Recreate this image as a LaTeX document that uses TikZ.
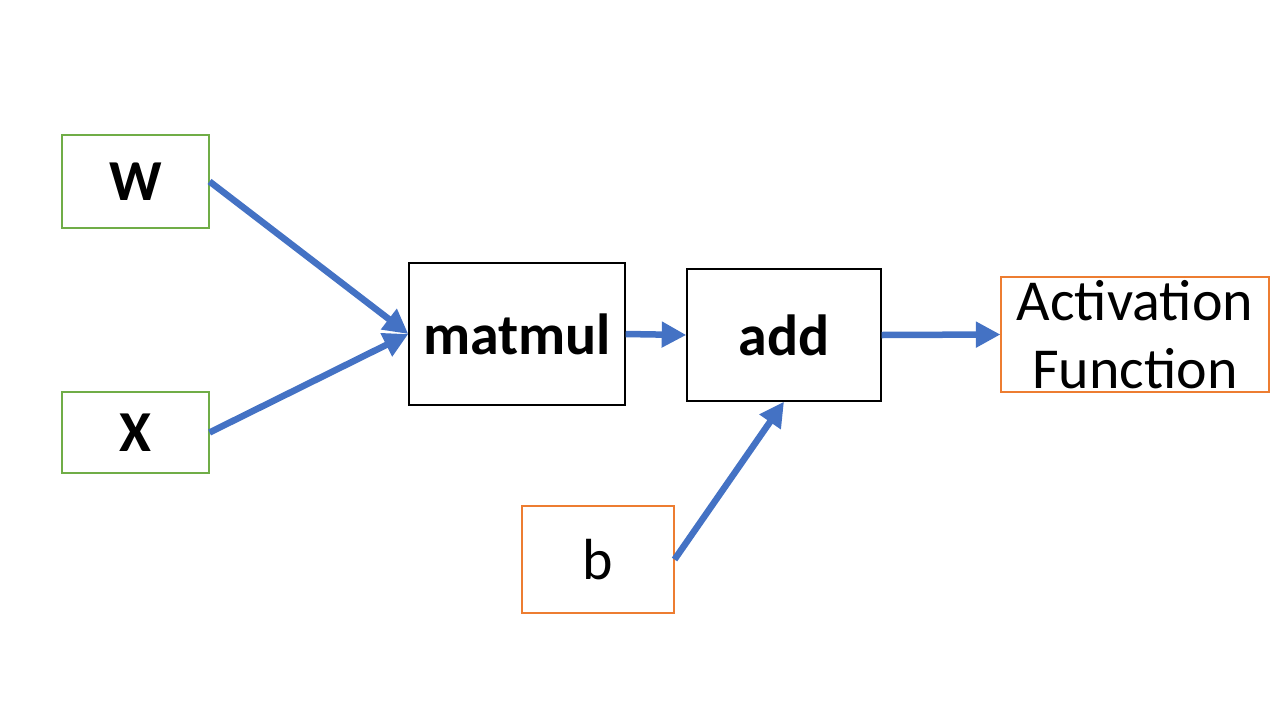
\documentclass[tikz,border=0pt]{standalone}
\usepackage{fontspec}
\setmainfont{Carlito}
\usetikzlibrary{arrows.meta}

\definecolor{edgeblue}{HTML}{4472C4}
\definecolor{inputgreen}{HTML}{70AD47}
\definecolor{biasorange}{HTML}{ED7D31}

\begin{document}
\begin{tikzpicture}[x=0.02cm, y=-0.02cm,
  every node/.style={font=\fontsize{33}{39}\selectfont, inner sep=0pt},
  inbox/.style={draw=inputgreen, line width=0.6pt, font=\fontsize{33}{39}\selectfont\bfseries},
  opbox/.style={draw=black, line width=0.8pt, font=\fontsize{33}{39}\selectfont\bfseries},
  outbox/.style={draw=biasorange, line width=0.6pt},
  flow/.style={draw=edgeblue, line width=3.7pt, -{Triangle[length=14pt,width=14pt]}}]
% Page frame
\useasboundingbox (0,0) rectangle (1280,720);

% Inputs
\node[inbox, minimum width=147*0.02cm, minimum height=93*0.02cm] (W) at (135.5,181.5) {W};
\node[inbox, minimum width=147*0.02cm, minimum height=81*0.02cm] (X) at (135.5,432.5) {X};

% Operations
\node[opbox, minimum width=216*0.02cm, minimum height=142*0.02cm] (matmul) at (517,334) {matmul};
\node[opbox, minimum width=194*0.02cm, minimum height=132*0.02cm] (add) at (784,335) {add};

% Bias and output
\node[outbox, minimum width=152*0.02cm, minimum height=107*0.02cm] (b) at (598,559.5) {b};
\node[outbox, minimum width=268*0.02cm, minimum height=115*0.02cm, align=center,
  font=\fontsize{33}{39}\selectfont] (act) at (1135,334.5) {Activation\\Function};

% Connectors
\draw[flow] (W.east) -- (matmul.west);
\draw[flow] (X.east) -- (matmul.west);
\draw[flow] (matmul.east) -- (add.west);
\draw[flow] (add.east) -- (act.west);
\draw[flow] (b.east) -- (add.south);
\end{tikzpicture}
\end{document}
